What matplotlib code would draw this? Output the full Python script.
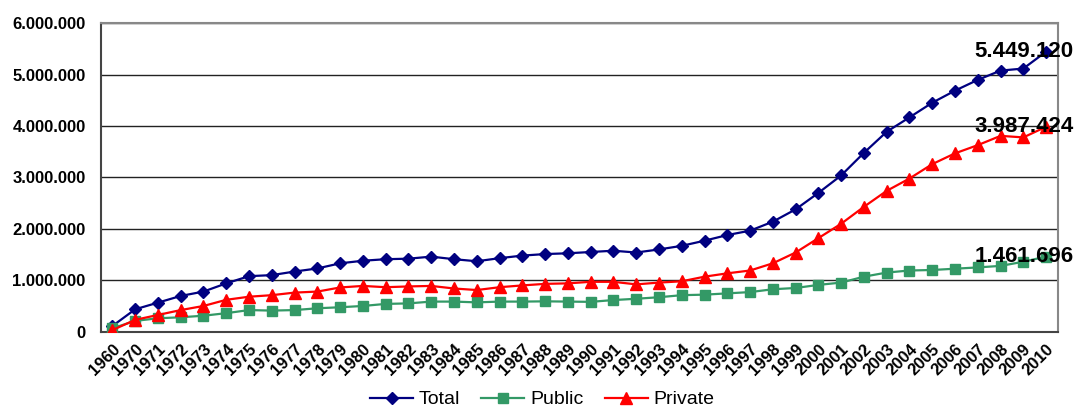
import matplotlib
matplotlib.use("Agg")
import matplotlib.pyplot as plt
from matplotlib.ticker import FuncFormatter

plt.rcParams['font.family'] = ['Liberation Sans', 'DejaVu Sans']

years = ['1960'] + [str(y) for y in range(1970, 2011)]

total = [110000, 435000, 565000, 695000, 780000, 940000, 1080000, 1100000, 1170000, 1230000,
         1330000, 1380000, 1410000, 1420000, 1460000, 1410000, 1370000, 1430000, 1480000, 1510000,
         1525000, 1550000, 1575000, 1540000, 1600000, 1670000, 1770000, 1880000, 1965000, 2140000,
         2380000, 2700000, 3040000, 3480000, 3890000, 4170000, 4455000, 4690000, 4900000, 5080000,
         5120000, 5449120]
public = [65000, 210000, 260000, 280000, 310000, 360000, 420000, 410000, 420000, 455000,
          475000, 500000, 540000, 550000, 585000, 585000, 570000, 585000, 585000, 590000,
          585000, 580000, 615000, 640000, 670000, 710000, 720000, 745000, 770000, 825000,
          850000, 910000, 955000, 1070000, 1150000, 1190000, 1200000, 1225000, 1250000, 1280000,
          1360000, 1461696]
private = [30000, 230000, 325000, 420000, 500000, 620000, 680000, 710000, 760000, 780000,
           860000, 890000, 865000, 880000, 890000, 840000, 810000, 865000, 900000, 930000,
           940000, 970000, 970000, 920000, 955000, 980000, 1070000, 1135000, 1190000, 1330000,
           1540000, 1820000, 2100000, 2430000, 2740000, 2980000, 3260000, 3470000, 3630000, 3810000,
           3780000, 3987424]

fig = plt.figure(figsize=(10.78, 4.12), dpi=100)
ax = fig.add_axes([0.0937, 0.195, 0.8873, 0.7484])

x = list(range(len(years)))
ax.plot(x, total, color='#000080', lw=1.6, marker='D', ms=6.5, label='Total', zorder=3)
ax.plot(x, public, color='#339966', lw=1.6, marker='s', ms=7, label='Public', zorder=3)
ax.plot(x, private, color='#FF0000', lw=1.6, marker='^', ms=8, label='Private', zorder=3)

# value labels on the last point of each series
for series in (total, private, public):
    v = series[-1]
    ax.annotate(f"{v:,}".replace(',', '.'), (x[-1], v), xytext=(-22, 0),
                textcoords='offset pixels', ha='center', va='center',
                fontsize=16, fontweight='bold', zorder=4)

ax.set_xlim(-0.5, len(years) - 0.5)
ax.set_ylim(0, 6000000)
ax.set_yticks(range(0, 6000001, 1000000))
ax.yaxis.set_major_formatter(FuncFormatter(lambda v, p: f"{int(v):,}".replace(',', '.')))
ax.set_xticks(x)
ax.set_xticklabels(years, rotation=45, ha='right', rotation_mode='anchor')
ax.tick_params(axis='y', length=0, labelsize=12, pad=11)
ax.tick_params(axis='x', length=0, labelsize=12, pad=7)
for lab in ax.get_xticklabels() + ax.get_yticklabels():
    lab.set_fontweight('bold')

ax.grid(axis='y', color='#222222', lw=1)
ax.set_axisbelow(True)
for side in ('top', 'right'):
    ax.spines[side].set_color('#888888')
    ax.spines[side].set_linewidth(1.5)
for side in ('left', 'bottom'):
    ax.spines[side].set_color('#444444')
    ax.spines[side].set_linewidth(1.5)

fig.legend(loc='center', bbox_to_anchor=(0.503, 0.03), ncol=3, frameon=False,
           fontsize=14, handlelength=2.2, handletextpad=0.3, columnspacing=1.1,
           borderpad=0.1)

fig.savefig('out.png', dpi=100)
